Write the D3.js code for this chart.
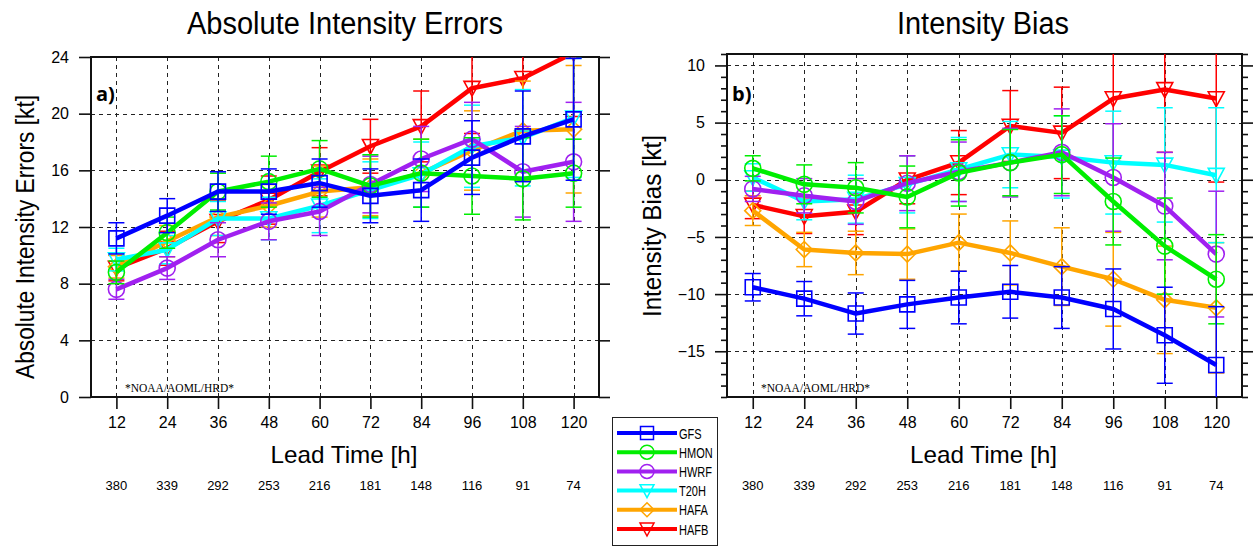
<!DOCTYPE html>
<html>
<head>
<meta charset="utf-8">
<script src="https://cdn.jsdelivr.net/npm/d3@7"></script>
<style>
  html, body { margin: 0; padding: 0; background: #fff; }
  svg { display: block; font-family: "Liberation Sans", Arial, sans-serif; }
</style>
</head>
<body>
<svg id="chart" width="1253" height="548"></svg>
<script>
// ---------- data ----------
const leadTimes = [12, 24, 36, 48, 60, 72, 84, 96, 108, 120];
const caseCounts = [380, 339, 292, 253, 216, 181, 148, 116, 91, 74];
const models = ["GFS", "HMON", "HWRF", "T20H", "HAFA", "HAFB"];
const modelColors = ["#0000ff", "#00ee00", "#a020f0", "#00ffff", "#ffa500", "#ff0000"];
const modelMarkers = ["square", "circle", "circle", "triangle", "diamond", "triangle"];

// Absolute intensity errors (kt)
const aeGFS  = [11.2, 12.8, 14.5, 14.5, 15.1, 14.2, 14.6, 16.9, 18.4, 19.6];
const aeHMON = [8.8, 11.6, 14.5, 15.2, 16.1, 14.9, 15.8, 15.6, 15.4, 15.8];
const aeHWRF = [7.6, 9.1, 11.1, 12.4, 13.1, 15.0, 16.8, 18.2, 15.9, 16.6];
const aeT20H = [9.7, 10.4, 12.6, 12.6, 13.5, 14.6, 15.7, 17.7, 18.3, 19.7];
const aeHAFA = [9.2, 11.0, 12.7, 13.5, 14.5, 14.8, 15.8, 17.4, 18.8, 18.9];
const aeHAFB = [9.1, 10.5, 12.4, 13.9, 15.9, 17.7, 19.1, 21.8, 22.5, 24.3];
// error bar half-widths
const aeErrGFS  = [1.1, 1.2, 1.4, 1.6, 1.7, 1.9, 2.2, 2.6, 3.2, 4.3];
const aeErrHMON = [0.8, 1.1, 1.3, 1.8, 2.0, 2.2, 2.4, 2.7, 2.9, 2.4];
const aeErrHWRF = [0.7, 0.8, 1.2, 1.3, 1.7, 2.0, 2.3, 2.6, 3.2, 4.2];
const aeErrT20H = [0.8, 1.0, 1.2, 1.5, 1.9, 2.0, 2.3, 2.9, 3.4, 4.2];
const aeErrHAFA = [0.8, 1.1, 1.3, 1.5, 1.8, 2.0, 2.4, 2.8, 3.5, 4.5];
const aeErrHAFB = [0.9, 1.2, 1.5, 1.7, 1.7, 1.9, 2.5, 3.2, 3.6, 4.5];

// Intensity bias (kt)
const biasGFS  = [-9.4, -10.4, -11.7, -10.9, -10.3, -9.8, -10.3, -11.3, -13.6, -16.2];
const biasHMON = [1.0, -0.4, -0.7, -1.5, 0.6, 1.5, 2.2, -1.9, -5.8, -8.7];
const biasHWRF = [-0.8, -1.4, -1.9, -0.3, 0.7, 1.5, 2.4, 0.2, -2.3, -6.5];
const biasT20H = [0.2, -1.9, -1.7, -0.4, 0.9, 2.2, 2.0, 1.5, 1.3, 0.4];
const biasHAFA = [-2.7, -6.1, -6.4, -6.5, -5.5, -6.4, -7.6, -8.7, -10.5, -11.2];
const biasHAFB = [-2.2, -3.2, -2.8, 0.0, 1.5, 4.7, 4.1, 7.1, 7.9, 7.1];
const biasErrGFS  = [1.2, 1.5, 1.8, 2.1, 2.3, 2.3, 2.7, 3.5, 4.2, 5.1];
const biasErrHMON = [1.1, 1.7, 2.2, 2.7, 2.9, 2.9, 3.4, 3.8, 4.2, 3.9];
const biasErrHWRF = [1.1, 1.5, 2.0, 2.4, 2.6, 3.0, 3.8, 4.7, 4.7, 5.5];
const biasErrT20H = [1.2, 1.6, 2.1, 2.5, 2.8, 2.9, 3.6, 4.5, 5.0, 5.9];
const biasErrHAFA = [1.3, 1.5, 1.9, 2.2, 2.5, 2.8, 3.4, 4.1, 4.7, 5.7];
const biasErrHAFB = [1.2, 1.5, 2.0, 2.1, 2.8, 3.1, 4.0, 5.5, 5.5, 7.3];

const aeTicks = [0, 4, 8, 12, 16, 20, 24];
const biasTicks = [-15, -10, -5, 0, 5, 10];

const aeValues = [aeGFS, aeHMON, aeHWRF, aeT20H, aeHAFA, aeHAFB];
const aeErrors = [aeErrGFS, aeErrHMON, aeErrHWRF, aeErrT20H, aeErrHAFA, aeErrHAFB];
const biasValues = [biasGFS, biasHMON, biasHWRF, biasT20H, biasHAFA, biasHAFB];
const biasErrors = [biasErrGFS, biasErrHMON, biasErrHWRF, biasErrT20H, biasErrHAFA, biasErrHAFB];

// ---------- drawing ----------
const svg = d3.select("#chart");
const FONT = "'Liberation Sans', Arial, sans-serif";

function markerPath(type, s) {
  const h = s / 2;
  if (type === "square") return `M${-h},${-h}H${h}V${h}H${-h}Z`;
  if (type === "circle") return d3.symbol(d3.symbolCircle, Math.PI * h * h)();
  if (type === "triangle") return `M${-h},${-h * 0.85}H${h}L0,${h}Z`;
  if (type === "diamond") return `M0,${-h}L${h},0L0,${h}L${-h},0Z`;
}

function condense(sel, f) {
  sel.each(function () {
    const w = this.getComputedTextLength();
    d3.select(this).attr("textLength", w * f).attr("lengthAdjust", "spacingAndGlyphs");
  });
}

function panel(cfg) {
  const x = d3.scaleLinear().domain([6, 126]).range([cfg.left, cfg.right]);
  const y = d3.scaleLinear().domain(cfg.yDomain).range([cfg.bottom, cfg.top]);
  const g = svg.append("g");
  const clipId = "clip" + cfg.id;
  svg.append("clipPath").attr("id", clipId).append("rect")
    .attr("x", cfg.left).attr("y", cfg.top)
    .attr("width", cfg.right - cfg.left).attr("height", cfg.bottom - cfg.top);

  // grid
  const grid = g.append("g").attr("stroke", "#222").attr("stroke-width", 1).attr("stroke-dasharray", "4,4");
  grid.selectAll("line.v").data(leadTimes).join("line")
    .attr("x1", d => Math.round(x(d)) + 0.5).attr("x2", d => Math.round(x(d)) + 0.5)
    .attr("y1", cfg.top).attr("y2", cfg.bottom);
  grid.selectAll("line.h").data(cfg.ticks.filter(t => y(t) > cfg.top + 1 && y(t) < cfg.bottom - 1)).join("line")
    .attr("x1", cfg.left).attr("x2", cfg.right)
    .attr("y1", d => Math.round(y(d)) + 0.5).attr("y2", d => Math.round(y(d)) + 0.5);

  // axes
  const bottomAxis = d3.axisBottom(x).tickValues(leadTimes).tickSize(12).tickPadding(8);
  g.append("g").attr("transform", `translate(0,${cfg.bottom})`).call(bottomAxis);
  const leftAxis = d3.axisLeft(y).tickValues(cfg.ticks).tickSize(12).tickPadding(10);
  g.append("g").attr("transform", `translate(${cfg.left},0)`).call(leftAxis);
  const rightAxis = d3.axisRight(y).tickValues(cfg.ticks).tickSize(11).tickFormat("");
  g.append("g").attr("transform", `translate(${cfg.right},0)`).call(rightAxis);
  if (cfg.minor) {
    const minor = d3.range(cfg.yDomain[0], cfg.yDomain[1] + 1).filter(v => !cfg.ticks.includes(v));
    g.append("g").attr("transform", `translate(${cfg.left},0)`)
      .call(d3.axisLeft(y).tickValues(minor).tickSize(6).tickFormat(""));
    g.append("g").attr("transform", `translate(${cfg.right},0)`)
      .call(d3.axisRight(y).tickValues(minor).tickSize(6).tickFormat(""));
  }
  g.selectAll(".domain").remove();
  g.selectAll(".tick line").attr("stroke", "#111").attr("stroke-width", 1.6);
  g.selectAll(".tick text").attr("font-family", FONT).attr("font-size", 16).attr("fill", "#000");

  // frame
  g.append("rect").attr("x", cfg.left).attr("y", cfg.top)
    .attr("width", cfg.right - cfg.left).attr("height", cfg.bottom - cfg.top)
    .attr("fill", "none").attr("stroke", "#111").attr("stroke-width", 2);

  // series (reverse order: GFS on top)
  const data = g.append("g").attr("clip-path", `url(#${clipId})`);
  for (let k = models.length - 1; k >= 0; k--) {
    const vals = cfg.values[k], errs = cfg.errors[k], col = modelColors[k];
    const pts = leadTimes.map((t, i) => ({ t, v: vals[i], e: errs[i] }));
    const sg = data.append("g");
    const eb = sg.append("g").attr("stroke", col).attr("stroke-width", 1.5);
    eb.selectAll("line.stem").data(pts).join("line")
      .attr("x1", d => x(d.t)).attr("x2", d => x(d.t))
      .attr("y1", d => y(d.v - d.e)).attr("y2", d => y(d.v + d.e));
    eb.selectAll("line.capt").data(pts).join("line")
      .attr("x1", d => x(d.t) - 8).attr("x2", d => x(d.t) + 8)
      .attr("y1", d => y(d.v + d.e)).attr("y2", d => y(d.v + d.e));
    eb.selectAll("line.capb").data(pts).join("line")
      .attr("x1", d => x(d.t) - 8).attr("x2", d => x(d.t) + 8)
      .attr("y1", d => y(d.v - d.e)).attr("y2", d => y(d.v - d.e));
    sg.append("path").datum(pts)
      .attr("d", d3.line().x(d => x(d.t)).y(d => y(d.v)))
      .attr("fill", "none").attr("stroke", col).attr("stroke-width", 4.5)
      .attr("stroke-linejoin", "round");
    sg.selectAll("path.mk").data(pts).join("path")
      .attr("transform", d => `translate(${x(d.t)},${y(d.v)})`)
      .attr("d", markerPath(modelMarkers[k], modelMarkers[k] === "square" ? 15 : 16))
      .attr("fill", "none").attr("stroke", col).attr("stroke-width", 1.6);
  }

  // texts
  g.append("text").attr("x", cfg.titleX).attr("y", 34).attr("text-anchor", "middle")
    .attr("font-family", FONT).attr("font-size", 31)
    .attr("textLength", cfg.titleLen).attr("lengthAdjust", "spacingAndGlyphs")
    .text(cfg.title);
  g.append("text").attr("transform", `translate(${cfg.ylabX},${cfg.ylabY}) rotate(-90)`)
    .attr("text-anchor", "middle").attr("font-family", FONT).attr("font-size", 25)
    .attr("textLength", cfg.ylabLen).attr("lengthAdjust", "spacingAndGlyphs")
    .text(cfg.ylabel);
  g.append("text").attr("x", (cfg.left + cfg.right) / 2 - 1).attr("y", 463).attr("text-anchor", "middle")
    .attr("font-family", FONT).attr("font-size", 24)
    .attr("textLength", 147).attr("lengthAdjust", "spacingAndGlyphs")
    .text("Lead Time [h]");
  g.append("g").selectAll("text").data(leadTimes).join("text")
    .attr("x", d => x(d)).attr("y", 490).attr("text-anchor", "middle")
    .attr("font-family", FONT).attr("font-size", 13)
    .text((d, i) => caseCounts[i]);
  g.append("text").attr("x", cfg.left + 5).attr("y", 101)
    .attr("font-family", "'Open Sans', 'Liberation Sans', sans-serif").attr("font-weight", "bold").attr("font-size", 20)
    .text(cfg.tag);
  g.append("text").attr("x", cfg.left + 34).attr("y", 392)
    .attr("font-family", "'Liberation Serif', 'Times New Roman', serif").attr("font-size", 12)
    .attr("textLength", 109).attr("lengthAdjust", "spacingAndGlyphs")
    .text("*NOAA/AOML/HRD*");
}

panel({ id: "a", left: 91, right: 599, top: 57, bottom: 397, yDomain: [0, 24], ticks: aeTicks,
  values: aeValues, errors: aeErrors, minor: false,
  title: "Absolute Intensity Errors", titleX: 345, titleLen: 316,
  ylabel: "Absolute Intensity Errors [kt]", ylabX: 34, ylabY: 237, ylabLen: 284, tag: "a)" });
panel({ id: "b", left: 727, right: 1242, top: 54, bottom: 397, yDomain: [-19, 11], ticks: biasTicks,
  values: biasValues, errors: biasErrors, minor: true,
  title: "Intensity Bias", titleX: 983, titleLen: 172,
  ylabel: "Intensity Bias [kt]", ylabX: 661, ylabY: 226, ylabLen: 182, tag: "b)" });

// legend
const lg = svg.append("g");
lg.append("rect").attr("x", 612.5).attr("y", 417.5).attr("width", 105).attr("height", 128)
  .attr("fill", "#fff").attr("stroke", "#222").attr("stroke-width", 1);
models.forEach((m, k) => {
  const yy = 433 + k * 19.2;
  lg.append("line").attr("x1", 617).attr("x2", 677).attr("y1", yy).attr("y2", yy)
    .attr("stroke", modelColors[k]).attr("stroke-width", 4);
  lg.append("path").attr("transform", `translate(647,${yy})`)
    .attr("d", markerPath(modelMarkers[k], modelMarkers[k] === "square" ? 13 : 14))
    .attr("fill", "none").attr("stroke", modelColors[k]).attr("stroke-width", 1.5);
  lg.append("text").attr("x", 679).attr("y", yy + 5.5).attr("font-family", FONT)
    .attr("font-size", 14.5).text(m).call(condense, 0.76);
});
</script>
</body>
</html>
